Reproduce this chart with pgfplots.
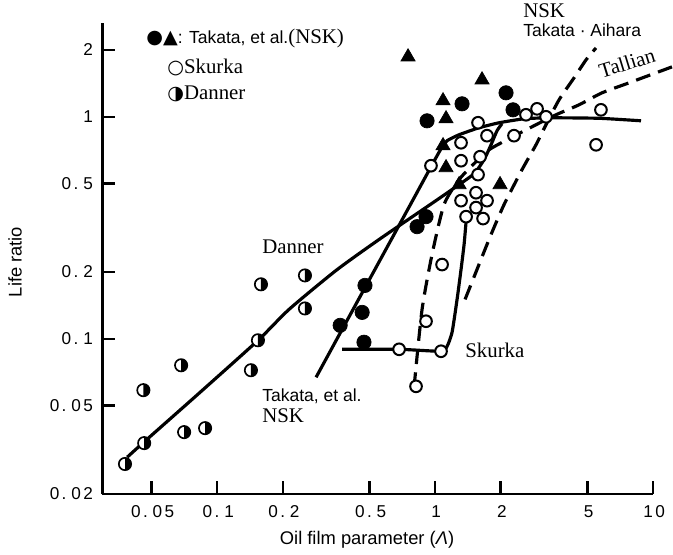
\documentclass[border=0pt]{standalone}
\usepackage{fontspec}
\setmainfont{Liberation Sans}
\newfontfamily\serif{Liberation Serif}
\newfontfamily\tickf[LetterSpace=14]{Liberation Sans}
\newfontfamily\sym{DejaVu Sans}
\usepackage{pgfplots}
\pgfplotsset{compat=1.18}
\pgfdeclareplotmark{halfright}{%
  \pgfscope
  \pgfsetfillcolor{white}%
  \pgfpathcircle{\pgfpointorigin}{\pgfplotmarksize}%
  \pgfusepathqfillstroke
  \endpgfscope
  \pgfscope
  \pgfsetfillcolor{black}%
  \pgfpathmoveto{\pgfqpoint{0pt}{\pgfplotmarksize}}%
  \pgfpatharc{90}{-90}{\pgfplotmarksize}%
  \pgfpathclose
  \pgfusepathqfill
  \endpgfscope
}
\newcommand\tk[2]{#1.\kern2.9pt#2}
\begin{document}
\begin{tikzpicture}
\begin{axis}[
  xmode=log, ymode=log,
  scale only axis, width=330.3pt, height=282.6pt,
  xmin=0.0298, xmax=10, ymin=0.02, ymax=2.645,
  axis lines=left, axis line style={-, line width=1.4pt},
  tick style={line width=1.4pt, black}, major tick length=7.8pt, tick align=inside,
  minor xtick={}, minor ytick={}, minor tick length=0pt,
  xtick={0.05,0.1,0.2,0.5,1,2,5,10},
  xticklabels={\tk{0}{05},\tk{0}{1},\tk{0}{2},\tk{0}{5},1,2,5,10},
  ytick={0.02,0.05,0.1,0.2,0.5,1,2},
  yticklabels={\tk{0}{02},\tk{0}{05},\tk{0}{1},\tk{0}{2},\tk{0}{5},1,2},
  xticklabel style={font=\tickf\fontsize{10.3}{12}\selectfont, inner sep=0pt, anchor=north, yshift=-6.6pt, xshift=0.7pt},
  yticklabel style={font=\tickf\fontsize{10.3}{12}\selectfont, inner sep=0pt, anchor=east, xshift=-5.6pt},
  xlabel={Oil film parameter ({\itshape Λ})},
  ylabel={Life ratio},
  xlabel style={font=\fontsize{11}{13}\selectfont, at={(axis description cs:0.4805,-0.0977)}, anchor=center},
  ylabel style={font=\fontsize{11}{13}\selectfont, at={(axis description cs:-0.159,0.4926)}, anchor=center},
  clip=false,
]
% Danner curve
\addplot[black, line width=1.9pt, smooth, tension=0.4] coordinates {
 (0.0387,0.0293) (0.0462,0.0343) (0.0827,0.0569) (0.1542,0.0985) (0.2139,0.1357)
 (0.3514,0.2032) (0.5535,0.2801) (1.0106,0.4194) (1.2885,0.4948) (1.510,0.5544)
 (1.678,0.6409) (1.807,0.7484) (1.925,0.8651) (2.029,0.930)};
% Takata NSK curve
\addplot[black, line width=1.9pt, smooth, tension=0.3] coordinates {
 (0.2845,0.0671) (0.3666,0.1059) (0.4776,0.1704) (0.7843,0.4150) (0.9586,0.5961)
 (1.0654,0.7181) (1.1354,0.7801) (1.2885,0.8300) (1.591,0.8925) (1.966,0.9397)
 (2.561,0.9795) (3.334,0.9897) (5.653,0.9846) (8.810,0.9594)};
% Skurka curve
\addplot[black, line width=1.9pt, smooth, tension=0.35] coordinates {
 (0.3745,0.0897) (0.6837,0.0897) (1.0654,0.0879) (1.1354,0.0925) (1.197,0.1070)
 (1.262,0.1505) (1.316,0.2053) (1.359,0.2659) (1.388,0.3374)};
% Tallian dashed
\addplot[black, line width=1.9pt, dash pattern=on 9pt off 5pt, smooth, tension=0.4] coordinates {
 (0.8011,0.0605) (0.8719,0.1357) (0.9688,0.2398) (1.0997,0.4022) (1.2885,0.5209)
 (1.510,0.6149) (1.769,0.7107) (2.185,0.7964) (2.786,0.9017) (3.589,1.021)
 (4.577,1.132) (5.836,1.282) (7.762,1.422) (12.22,1.678)};
% NSK Takata-Aihara dashed
\addplot[black, line width=1.9pt, dash pattern=on 9pt off 5pt, smooth, tension=0.4] coordinates {
 (1.373,0.1505) (1.558,0.2053) (1.807,0.2949) (2.073,0.4022) (2.506,0.5777)
 (2.906,0.7484) (3.229,0.9206) (3.706,1.192) (4.341,1.497) (4.927,1.804) (5.476,2.042)};
% Danner points
\addplot[only marks, mark=halfright, mark size=3.7pt, mark options={draw=black, line width=1pt}] coordinates {
 (0.0378,0.0273) (0.0463,0.0339) (0.0459,0.0587) (0.0684,0.076) (0.0706,0.038)
 (0.0881,0.0396) (0.143,0.0722) (0.154,0.0985) (0.159,0.176) (0.253,0.193) (0.253,0.137)};
% Skurka points
\addplot[only marks, mark=*, mark size=3.5pt, mark options={fill=white, draw=black, line width=1.2pt}] coordinates {
 (1.575,0.940) (1.732,0.822) (1.316,0.764) (0.958,0.602) (1.316,0.634) (1.609,0.661)
 (1.575,0.549) (1.542,0.455) (1.316,0.419) (1.732,0.419) (1.542,0.390) (1.388,0.355)
 (1.661,0.348) (2.303,0.822) (2.614,1.021) (2.938,1.086) (3.230,1.0) (5.77,1.075)
 (5.48,0.748) (1.077,0.216) (0.909,0.120) (0.684,0.0897) (1.065,0.0879) (0.818,0.0611)};
% Takata filled circles
\addplot[only marks, mark=*, mark size=4.3pt, mark options={fill=black, draw=black}] coordinates {
 (1.330,1.144) (0.919,0.959) (2.117,1.282) (2.279,1.075) (0.909,0.355) (0.827,0.320)
 (0.477,0.174) (0.463,0.1315) (0.367,0.115) (0.472,0.0965)};
% Takata triangles
\addplot[only marks, mark=triangle*, mark size=4.9pt, mark options={fill=black, draw=black, line width=0.4pt}] coordinates {
 (0.752,1.862) (1.643,1.467) (1.088,1.181) (1.123,0.980) (1.088,0.741) (1.123,0.590)
 (1.289,0.495) (1.987,0.495)};
\end{axis}
% text labels
\node[anchor=base west, inner sep=0pt] at (26.1pt,270.3pt) {{\sym\fontsize{11.5}{14}\selectfont ●▲}\fontsize{10.5}{12}\selectfont: Takata, et al.{\serif\fontsize{12.5}{14}\selectfont(NSK)}};
\node[anchor=base west, inner sep=0pt] at (38.7pt,252pt) {{\sym\fontsize{11.5}{14}\selectfont ○}{\serif\fontsize{12.5}{14}\selectfont Skurka}};
\node[anchor=base west, inner sep=0pt] at (38.7pt,236.4pt) {{\sym\fontsize{11.5}{14}\selectfont ◑}{\serif\fontsize{12.5}{14}\selectfont Danner}};
\node[anchor=base west, inner sep=0pt, font=\serif\fontsize{12.5}{14}\selectfont] at (95.7pt,144.6pt) {Danner};
\node[anchor=base west, inner sep=0pt, font=\fontsize{10.5}{12}\selectfont] at (95.7pt,55.8pt) {Takata, et al.};
\node[anchor=base west, inner sep=0pt, font=\serif\fontsize{12.5}{14}\selectfont] at (95.7pt,43.2pt) {NSK};
\node[anchor=base west, inner sep=0pt, font=\serif\fontsize{12.5}{14}\selectfont] at (217.5pt,82.2pt) {Skurka};
\node[anchor=base west, inner sep=0pt, font=\serif\fontsize{12.5}{14}\selectfont] at (252.3pt,285.6pt) {NSK};
\node[anchor=base west, inner sep=0pt, font=\fontsize{10.5}{12}\selectfont] at (252.3pt,274.2pt) {Takata · Aihara};
\node[inner sep=0pt, rotate=17, font=\serif\fontsize{12.5}{14}\selectfont] at (314.7pt,258.6pt) {Tallian};
\pgfresetboundingbox
\path[use as bounding box] (-61.5pt,-36pt) rectangle (342.3pt,296.4pt);
\end{tikzpicture}
\end{document}
